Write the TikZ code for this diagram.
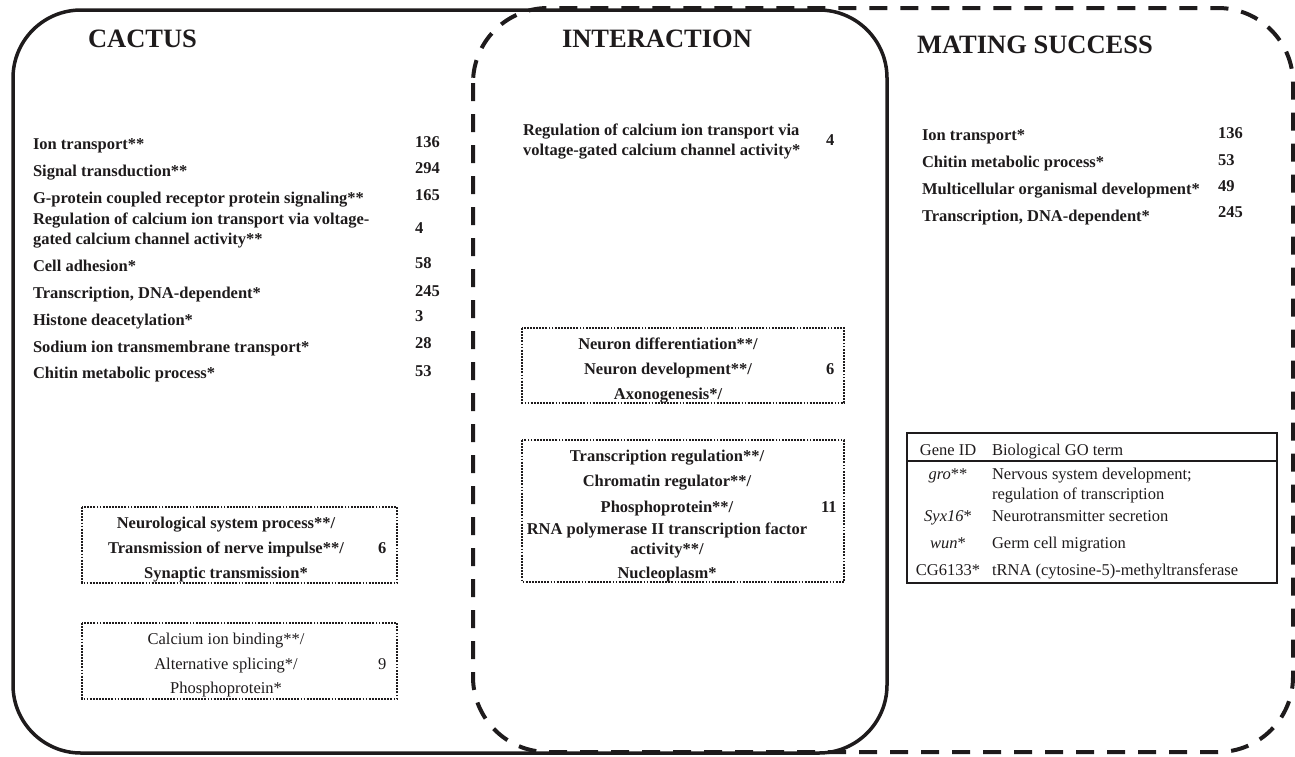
\documentclass[tikz,border=0pt]{standalone}
\usepackage{fontspec}
\setmainfont{Liberation Serif}
\definecolor{ink}{RGB}{30,27,28}
\begin{document}
\begin{tikzpicture}[x=1pt,y=-1pt,
  every node/.style={inner sep=0pt, outer sep=0pt, text=ink},
  lab/.style={anchor=base west, font=\fontsize{16.5}{20}\selectfont\bfseries},
  labc/.style={anchor=base, font=\fontsize{16.5}{20}\selectfont\bfseries},
  reg/.style={anchor=base, font=\fontsize{16.5}{20}\selectfont},
  regw/.style={anchor=base west, font=\fontsize{16.5}{20}\selectfont},
  ttl/.style={anchor=base west, font=\fontsize{26.5}{30}\selectfont\bfseries},
  solidbox/.style={draw=ink, line width=3.5pt, rounded corners=68pt},
  dashbox/.style={draw=ink, line width=4pt, dash pattern=on 18pt off 13pt, rounded corners=75pt},
  dotbox/.style={draw=ink, line width=2.3pt, dash pattern=on 1.8pt off 1.3pt},
  tabline/.style={draw=ink, line width=1.3pt}
]
\useasboundingbox (0,0) rectangle (1295,756);
% group outlines
\draw[dashbox] (473,8) rectangle (1293,752);
\draw[solidbox] (13,10) rectangle (887,753);
% dotted boxes
\draw[dotbox] (82,507) rectangle (397,583);
\draw[dotbox] (82,623) rectangle (397,699);
\draw[dotbox] (522,328) rectangle (844,403);
\draw[dotbox] (522,440) rectangle (844,582);
% table
\draw[tabline] (907,433) rectangle (1277,583);
\draw[tabline] (907,461) -- (1277,461);

% titles
\node[ttl] (tc) at (88,47) {CACTUS};
\node[ttl] (ti) at (562,47) {INTERACTION};
\node[ttl] (tm) at (917,53) {MATING SUCCESS};

% CACTUS list
\node[lab] (c1) at (33,149) {Ion transport**};
\node[lab] (c2) at (33,176) {Signal transduction**};
\node[lab] (c3) at (33,203) {G-protein coupled receptor protein signaling**};
\node[lab] (c4a) at (33,224) {Regulation of calcium ion transport via voltage-};
\node[lab] (c4b) at (33,244) {gated calcium channel activity**};
\node[lab] (c5) at (33,271) {Cell adhesion*};
\node[lab] (c6) at (33,298) {Transcription, DNA-dependent*};
\node[lab] (c7) at (33,325) {Histone deacetylation*};
\node[lab] (c8) at (33,352) {Sodium ion transmembrane transport*};
\node[lab] (c9) at (33,378) {Chitin metabolic process*};
\node[lab] (cn1) at (415,147) {136};
\node[lab] (cn2) at (415,173) {294};
\node[lab] (cn3) at (415,200) {165};
\node[lab] (cn4) at (415,233) {4};
\node[lab] (cn5) at (415,268) {58};
\node[lab] (cn6) at (415,296) {245};
\node[lab] (cn7) at (415,321) {3};
\node[lab] (cn8) at (415,348) {28};
\node[lab] (cn9) at (415,376) {53};

% CACTUS dotted box 1
\node[labc] (cb1a) at (226,528) {Neurological system process**/};
\node[labc] (cb1b) at (226,553) {Transmission of nerve impulse**/};
\node[labc] (cb1c) at (226,578) {Synaptic transmission*};
\node[lab] (cb1n) at (378,553) {6};
% CACTUS dotted box 2
\node[reg] (cb2a) at (226,644) {Calcium ion binding**/};
\node[reg] (cb2b) at (226,669) {Alternative splicing*/};
\node[reg] (cb2c) at (226,693) {Phosphoprotein*};
\node[regw] (cb2n) at (378,669) {9};

% INTERACTION
\node[lab] (i1a) at (523,135) {Regulation of calcium ion transport via};
\node[lab] (i1b) at (523,155) {voltage-gated calcium channel activity*};
\node[lab] (i1n) at (826,145) {4};
\node[labc] (ib1a) at (668,349) {Neuron differentiation**/};
\node[labc] (ib1b) at (668,374) {Neuron development**/};
\node[labc] (ib1c) at (668,399) {Axonogenesis*/};
\node[lab] (ib1n) at (826,374) {6};
\node[labc] (ib2a) at (667,461) {Transcription regulation**/};
\node[labc] (ib2b) at (667,486) {Chromatin regulator**/};
\node[labc] (ib2c) at (667,512) {Phosphoprotein**/};
\node[labc] (ib2d) at (667,534) {RNA polymerase II transcription factor};
\node[labc] (ib2e) at (667,554) {activity**/};
\node[labc] (ib2f) at (667,578) {Nucleoplasm*};
\node[lab] (ib2n) at (821,512) {11};

% MATING SUCCESS
\node[lab] (m1) at (922,140) {Ion transport*};
\node[lab] (m2) at (922,167) {Chitin metabolic process*};
\node[lab] (m3) at (922,194) {Multicellular organismal development*};
\node[lab] (m4) at (922,221) {Transcription, DNA-dependent*};
\node[lab] (mn1) at (1218,138) {136};
\node[lab] (mn2) at (1218,165) {53};
\node[lab] (mn3) at (1218,191) {49};
\node[lab] (mn4) at (1218,217) {245};

% table text
\node[reg] (th1) at (948,455) {Gene ID};
\node[regw] (th2) at (992,455) {Biological GO term};
\node[reg] (g1) at (948,479) {\textit{gro}**};
\node[regw] (d1a) at (992,479) {Nervous system development;};
\node[regw] (d1b) at (992,499) {regulation of transcription};
\node[reg] (g2) at (948,521) {\textit{Syx16}*};
\node[regw] (d2) at (992,521) {Neurotransmitter secretion};
\node[reg] (g3) at (948,548) {\textit{wun}*};
\node[regw] (d3) at (992,548) {Germ cell migration};
\node[reg] (g4) at (948,575) {CG6133*};
\node[regw] (d4) at (992,575) {tRNA (cytosine-5)-methyltransferase};
\end{tikzpicture}
\end{document}
